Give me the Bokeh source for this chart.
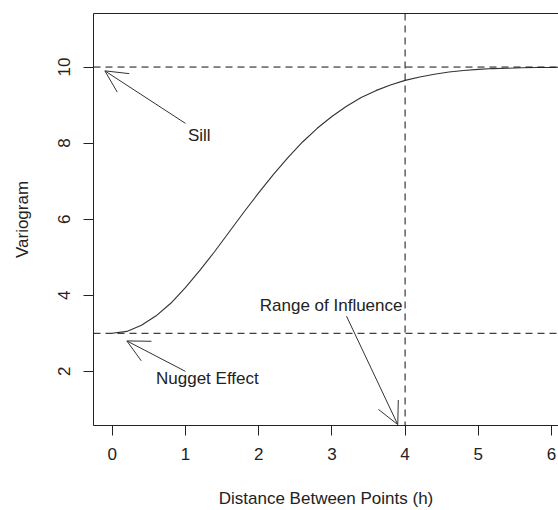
from bokeh.plotting import figure
from bokeh.models import (Range1d, Span, Arrow, OpenHead, LinearAxis,
                          FixedTicker, ColumnDataSource)
from bokeh.core.properties import value
from bokeh.embed import file_html
from bokeh.resources import INLINE

# ---- data ----
h = [0.0, 0.2, 0.4, 0.6, 0.8, 1.0, 1.2, 1.4, 1.6, 1.8, 2.0, 2.2, 2.4, 2.6, 2.8,
     3.0, 3.2, 3.4, 3.6, 3.8, 4.0, 4.2, 4.4, 4.6, 4.8, 5.0, 5.2, 5.4, 5.6, 5.8,
     6.0, 6.2]
gamma = [3.00, 3.05, 3.21, 3.46, 3.79, 4.20, 4.66, 5.15, 5.67, 6.19, 6.69, 7.17,
         7.62, 8.03, 8.39, 8.70, 8.97, 9.20, 9.38, 9.53, 9.65, 9.74, 9.81, 9.87,
         9.91, 9.94, 9.96, 9.97, 9.98, 9.99, 9.99, 10.00]
x_ticks = [0, 1, 2, 3, 4, 5, 6]
y_ticks = [2, 4, 6, 8, 10]
sill = 10
nugget = 3
range_of_influence = 4

labels = ["Sill", "Nugget Effect", "Range of Influence"]
label_x = [1.19, 1.30, 2.99]
label_y = [8.19, 1.80, 3.73]
# arrows: (tail x, tail y, head x, head y)
arrow_x0 = [1.0, 1.0, 3.2]
arrow_y0 = [8.52, 2.0, 3.45]
arrow_x1 = [-0.1, 0.2, 3.9]
arrow_y1 = [9.9, 2.8, 0.6]

FONT = "Liberation Sans"
FS = "17px"
INK = "#222222"

p = figure(width=558, height=510, output_backend="svg", toolbar_location=None,
           x_range=Range1d(-0.255, 6.095), y_range=Range1d(0.576, 11.408),
           min_border_left=93, min_border_right=0, min_border_top=13,
           min_border_bottom=84, background_fill_color="white",
           border_fill_color="white")
p.outline_line_color = None
p.xgrid.visible = False
p.ygrid.visible = False

for ax in (p.xaxis[0], p.yaxis[0]):
    ax.major_tick_out = 10
    ax.major_tick_in = 0
    ax.minor_tick_out = 0
    ax.minor_tick_in = 0
    ax.axis_line_color = INK
    ax.major_tick_line_color = INK
    ax.major_label_text_font = FONT
    ax.major_label_text_font_size = FS
    ax.major_label_text_color = INK
    ax.axis_label_text_font = FONT
    ax.axis_label_text_font_size = FS
    ax.axis_label_text_font_style = "normal"
    ax.axis_label_text_color = INK

p.xaxis[0].ticker = FixedTicker(ticks=x_ticks)
p.yaxis[0].ticker = FixedTicker(ticks=y_ticks)
p.xaxis[0].axis_label = "Distance Between Points (h)"
p.yaxis[0].axis_label = "Variogram"
p.yaxis[0].major_label_orientation = "vertical"
p.xaxis[0].major_label_standoff = 12
p.xaxis[0].axis_label_standoff = 26
p.yaxis[0].major_label_standoff = 13
p.yaxis[0].axis_label_standoff = 24

# top border of the box
top = LinearAxis(ticker=FixedTicker(ticks=[]), major_tick_out=0, major_tick_in=0,
                 minor_tick_out=0, minor_tick_in=0, major_label_standoff=0,
                 axis_line_color=INK)
p.add_layout(top, "above")

# reference lines
for loc in (sill, nugget):
    p.add_layout(Span(location=loc, dimension="width", line_color="#111111",
                      line_dash="7 5", line_width=1))
p.add_layout(Span(location=range_of_influence, dimension="height",
                  line_color="#111111", line_dash="7 5", line_width=1))

# curve
p.line(h, gamma, line_color="#333333", line_width=1.1)

# arrows and labels
for xs, ys, xe, ye in zip(arrow_x0, arrow_y0, arrow_x1, arrow_y1):
    p.add_layout(Arrow(x_start=xs, y_start=ys, x_end=xe, y_end=ye,
                       line_color="#333333", line_width=1,
                       end=OpenHead(size=22, line_color="#333333", line_width=1)))

src = ColumnDataSource(dict(x=label_x, y=label_y, t=labels))
p.text(x="x", y="y", text="t", source=src, text_align="center",
       text_baseline="middle", text_font=value(FONT), text_font_size=FS,
       text_color=INK)

open("out.html", "w").write(file_html(p, INLINE))
